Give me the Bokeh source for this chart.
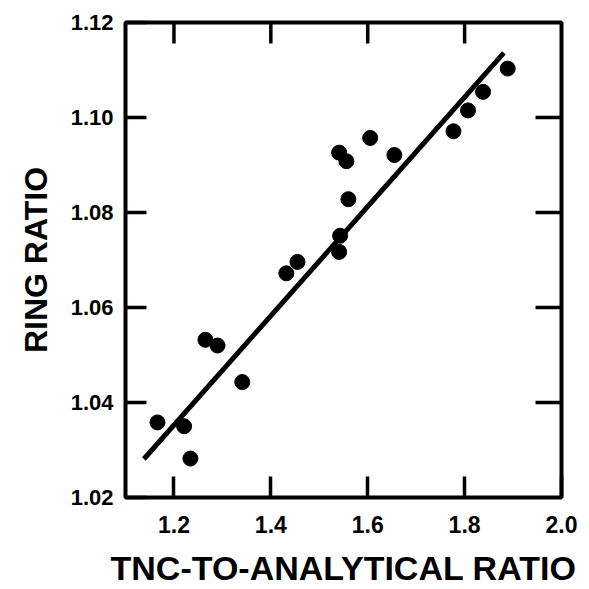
import math
from bokeh.plotting import figure
from bokeh.models import FixedTicker, Range1d
from bokeh.embed import file_html
from bokeh.resources import INLINE

# data
tnc_ratio = [1.166, 1.221, 1.234, 1.265, 1.290, 1.341, 1.432, 1.455, 1.541, 1.543,
             1.541, 1.556, 1.560, 1.605, 1.655, 1.777, 1.807, 1.838, 1.889]
ring_ratio = [1.0358, 1.0350, 1.0282, 1.0532, 1.0520, 1.0443, 1.0672, 1.0696, 1.0717, 1.0751,
              1.0926, 1.0908, 1.0828, 1.0957, 1.0921, 1.0971, 1.1015, 1.1054, 1.1103]
fit_x = [1.138, 1.881]
fit_y = [1.0281, 1.1136]
x_ticks = [1.2, 1.4, 1.6, 1.8, 2.0]
y_ticks = [1.02, 1.04, 1.06, 1.08, 1.10, 1.12]
x_labels = {1.2: "1.2", 1.4: "1.4", 1.6: "1.6", 1.8: "1.8", 2.0: "2.0"}
y_labels = {1.02: "1.02", 1.04: "1.04", 1.06: "1.06", 1.08: "1.08", 1.10: "1.10", 1.12: "1.12"}

FONT = "Liberation Sans"
X0, X1, Y0, Y1 = 1.1, 2.0, 1.02, 1.12

p = figure(width=583, height=589, x_range=Range1d(X0, X1), y_range=Range1d(Y0, Y1),
           output_backend="svg", toolbar_location=None,
           min_border_left=125, min_border_top=22, min_border_right=22, min_border_bottom=91,
           x_axis_label="TNC-TO-ANALYTICAL RATIO", y_axis_label="RING RATIO")
p.grid.visible = False
p.outline_line_color = "black"
p.outline_line_width = 4
p.background_fill_color = "white"
p.border_fill_color = "white"

def style(ax, ticks, labels, size, standoff):
    ax.ticker = FixedTicker(ticks=ticks)
    ax.major_label_overrides = labels
    ax.minor_tick_line_color = None
    ax.major_tick_in = 21
    ax.major_tick_out = 0
    ax.major_tick_line_width = 3.5
    ax.major_tick_line_color = "black"
    ax.axis_line_color = None
    ax.major_label_text_font = FONT
    ax.major_label_text_font_style = "bold"
    ax.major_label_text_color = "black"
    ax.major_label_text_font_size = size
    ax.major_label_standoff = standoff
    ax.axis_label_text_font = FONT
    ax.axis_label_text_font_style = "bold"
    ax.axis_label_text_color = "black"

style(p.xaxis[0], x_ticks, x_labels, "23px", 18)
style(p.yaxis[0], y_ticks, y_labels, "22px", 12)
p.xaxis[0].axis_label_text_font_size = "34px"
p.yaxis[0].axis_label_text_font_size = "32px"
p.xaxis[0].axis_label_standoff = 13
p.yaxis[0].axis_label_standoff = 14

# inward ticks on the top and right edges, placed at the tick values
p.ray(x=x_ticks[:-1], y=[Y1] * (len(x_ticks) - 1), length=21, length_units="screen",
      angle=-math.pi / 2, line_color="black", line_width=3.5)
p.ray(x=[X1] * (len(y_ticks) - 2), y=y_ticks[1:-1], length=26, length_units="screen",
      angle=math.pi, line_color="black", line_width=3.5)

p.line(fit_x, fit_y, line_color="black", line_width=5)
p.scatter(tnc_ratio, ring_ratio, size=15, fill_color="black", line_color="black")

open("out.html", "w").write(file_html(p, INLINE))
